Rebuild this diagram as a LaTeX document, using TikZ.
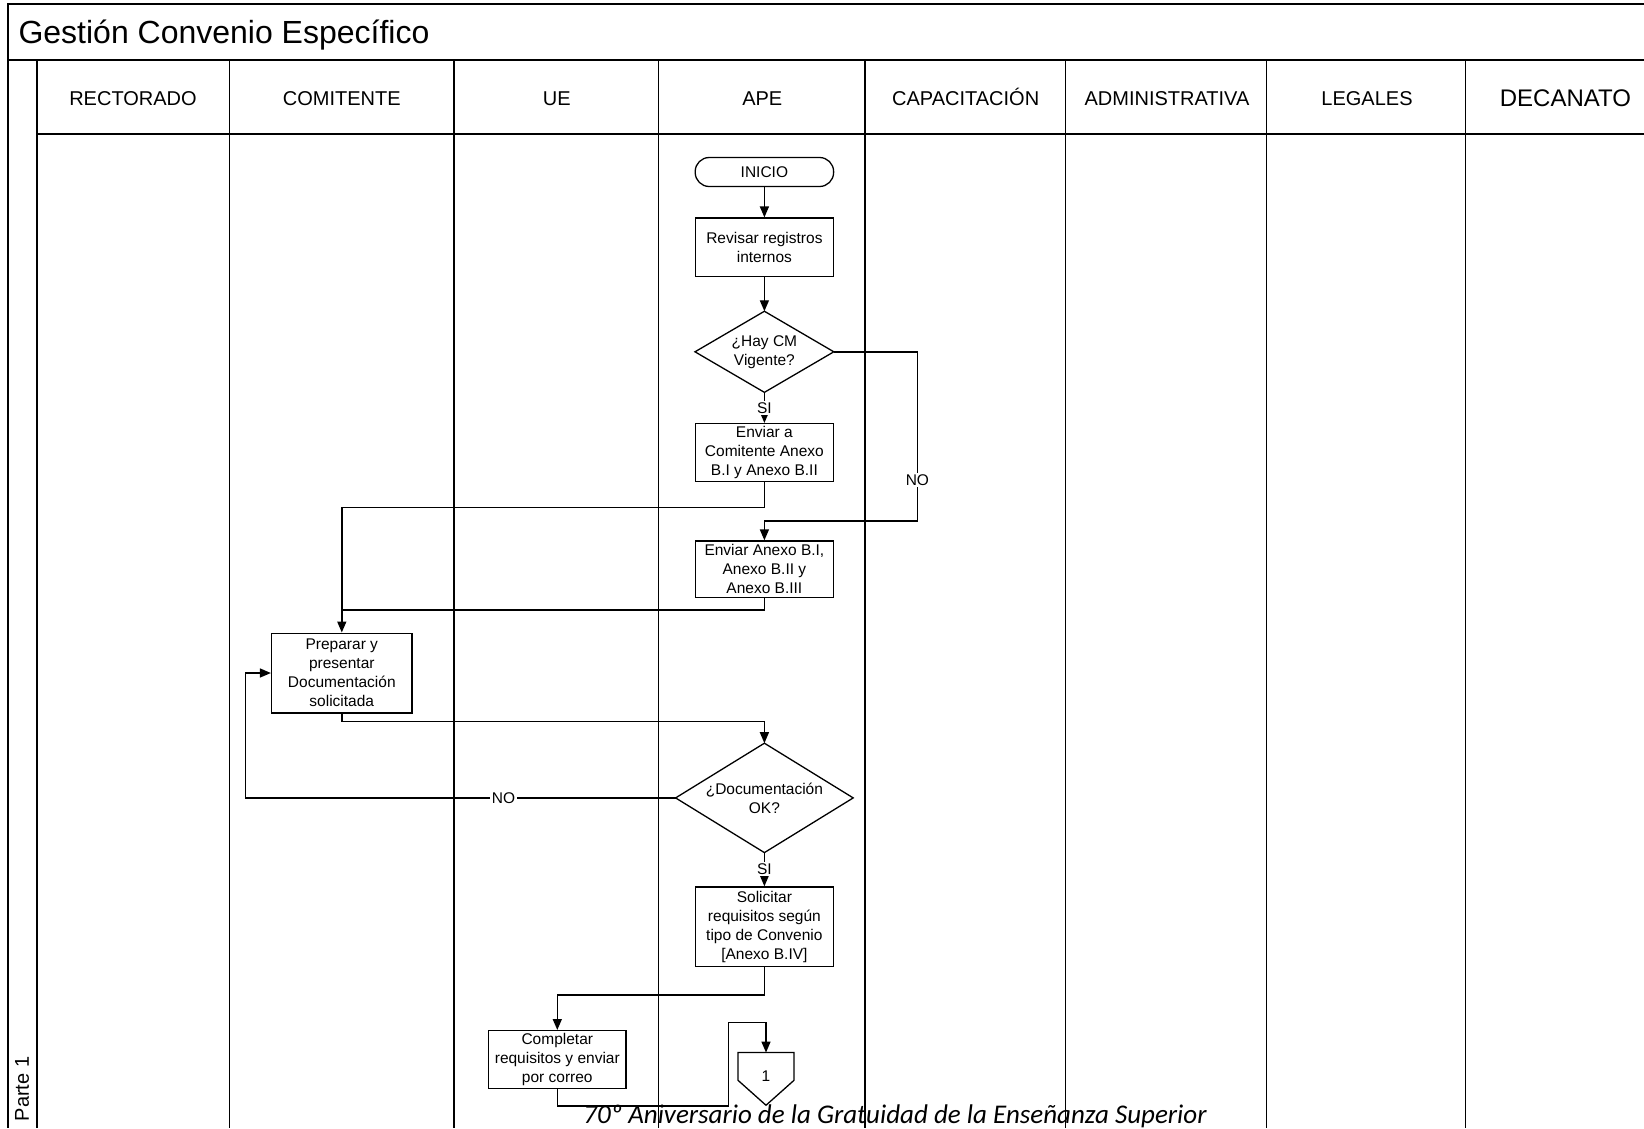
\documentclass[tikz,border=0pt]{standalone}
\usepackage{fontspec}
\setmainfont{Liberation Sans}
\newfontfamily\footfont{Carlito}
\usetikzlibrary{arrows.meta,calc}
\begin{document}
\begin{tikzpicture}[x=1pt,y=-1pt,
  frame/.style={line width=1.4pt},
  lane/.style={line width=1.2pt},
  arr/.style={line width=1.45pt,-{Triangle[length=11pt,width=9pt]}},
  conn/.style={line width=1.45pt},
  procbox/.style={draw,line width=1.3pt,minimum width=138.4pt,inner sep=1pt,align=center,font=\fontsize{15.5}{19}\selectfont},
  termbox/.style={draw,line width=1.3pt,rounded corners=14pt,minimum width=138.4pt,minimum height=29pt,inner sep=1pt,align=center,font=\fontsize{15.5}{19}\selectfont},
  decbox/.style={draw=none,minimum width=#1,inner sep=0pt,align=center,font=\fontsize{15.5}{19}\selectfont},
  lanelbl/.style={anchor=base,font=\fontsize{20}{24}\selectfont},
  edgelbl/.style={fill=white,inner sep=1.5pt,font=\fontsize{15.5}{19}\selectfont}
]
\useasboundingbox (0,0) rectangle (1644,1128);
\fill[white] (0,0) rectangle (1644,1128);
% frame and lanes
\draw[frame] (1644,4) -- (8,4) -- (8,1128);
\draw[frame] (8,60) -- (1644,60);
\draw[frame] (37,134) -- (1644,134);
\draw[lane] (37,60) -- (37,1128);
\foreach \lx in {229.6,454,658.5,865,1065.3,1266.6,1465.8}
  \draw[lane] (\lx,60) -- (\lx,1128);
\node[anchor=west,font=\fontsize{32}{38}\selectfont] (title) at (15,35) {Gestión Convenio Específico};
\node[lanelbl] (l1) at (133,105) {RECTORADO};
\node[lanelbl] (l2) at (341.8,105) {COMITENTE};
\node[lanelbl] (l3) at (556.8,105) {UE};
\node[lanelbl] (l4) at (762.3,105) {APE};
\node[lanelbl] (l5) at (965.7,105) {CAPACITACIÓN};
\node[lanelbl] (l6) at (1167,105) {ADMINISTRATIVA};
\node[lanelbl] (l7) at (1367,105) {LEGALES};
\node[anchor=base,font=\fontsize{24}{28}\selectfont] (l8) at (1565.4,106) {DECANATO};
\node[rotate=90,font=\fontsize{20}{24}\selectfont] (parte) at (22,1089) {Parte 1};
% nodes
\node[termbox] (ini) at (764.4,172) {INICIO};
\node[procbox,minimum height=58.7pt] (rev) at (764.4,247.4) {Revisar registros\\internos};
\node[decbox=138.4pt,minimum height=80.7pt] (d1) at (764.4,351.8) {¿Hay CM\\Vigente?};
\draw[line width=1.3pt] (d1.west) -- (d1.north) -- (d1.east) -- (d1.south) -- cycle;
\node[procbox,minimum height=57.7pt] (env1) at (764.4,452.5) {Enviar a\\Comitente Anexo\\B.I y Anexo B.II};
\node[procbox,minimum height=56.6pt] (env2) at (764.4,569.3) {Enviar Anexo B.I,\\Anexo B.II y\\Anexo B.III};
\node[procbox,minimum width=140.5pt,minimum height=79.7pt] (prep) at (341.8,673) {Preparar y\\presentar\\Documentación\\solicitada};
\node[decbox=177.2pt,minimum height=109pt] (d2) at (764.4,797.9) {¿Documentación\\OK?};
\draw[line width=1.3pt] (d2.west) -- (d2.north) -- (d2.east) -- (d2.south) -- cycle;
\node[procbox,minimum height=79.7pt] (sol) at (764.4,926.8) {Solicitar\\requisitos según\\tipo de Convenio\\{[}Anexo B.IV{]}};
\node[procbox,minimum width=137.4pt,minimum height=57.7pt] (comp) at (557.3,1059.5) {Completar\\requisitos y enviar\\por correo};
\node[draw=none,minimum width=55.7pt,minimum height=52.3pt,inner sep=0pt,font=\fontsize{15.5}{19}\selectfont] (c1) at (766,1078.9) {\raisebox{6pt}{1}};
\draw[line width=1.3pt] (c1.north west) -- (c1.north east) -- ($(c1.south east)+(0,-25)$) -- (c1.south) -- ($(c1.south west)+(0,-25)$) -- cycle;
% coordinates
\coordinate (noR) at (917.4,521.1);
\coordinate (j1) at (341.8,507.5);
\coordinate (j2) at (341.8,610.2);
\coordinate (j3) at (764.4,721.4);
\coordinate (j4) at (245.3,673);
\coordinate (j5) at (557.3,995);
\coordinate (j6) at (728.7,1106.2);
\coordinate (j7) at (766,1022.3);
% connectors
\draw[arr] (ini.south) -- (rev.north);
\draw[arr] (rev.south) -- (d1.north);
\draw[arr] (d1.south) -- node[edgelbl] (si1) {SI} (env1.north);
\draw[arr] (d1.east) -| node[edgelbl,pos=0.88] (no1) {NO} (noR) -| (env2.north);
\draw[arr] (env1.south) |- (j1) -- (prep.north);
\draw[conn] (env2.south) |- (j2);
\draw[arr] (prep.south) |- (j3) -- (d2.north);
\draw[arr] (d2.west) -| node[edgelbl,pos=0.2] (no2) {NO} (j4) -- (prep.west);
\draw[arr] (d2.south) -- node[edgelbl] (si2) {SI} (sol.north);
\draw[arr] (sol.south) |- (j5) -- (comp.north);
\draw[arr] (comp.south) |- (j6) |- (j7) -- (c1.north);
% footer
\node[font=\footfont\itshape\fontsize{27}{32}\selectfont] (foot) at (895,1116) {70º Aniversario de la Gratuidad de la Enseñanza Superior};
\end{tikzpicture}
\end{document}
